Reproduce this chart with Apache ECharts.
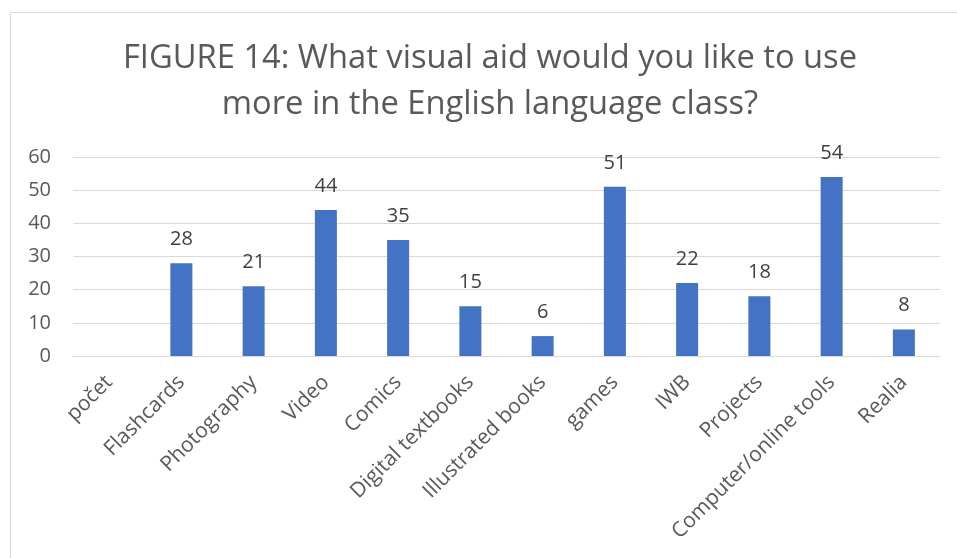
<!DOCTYPE html>
<html><head><meta charset="utf-8">
<script src="https://cdn.jsdelivr.net/npm/echarts@6/dist/echarts.min.js"></script>
<style>html,body{margin:0;padding:0;background:#fff}#c{width:957px;height:558px}</style>
</head><body><div id="c"></div>
<script>
const titleLines = ['FIGURE 14: What visual aid would you like to use', 'more in the English language class?'];
const categories = ['počet','Flashcards','Photography','Video','Comics','Digital textbooks','Illustrated books','games','IWB','Projects','Computer/online tools','Realia'];
const values = [null,28,21,44,35,15,6,51,22,18,54,8];
const yTicks = {min:0, max:60, interval:10};

const chart = echarts.init(document.getElementById('c'), null, {renderer:'canvas'});
const FONT = '"Open Sans", sans-serif';
chart.setOption({
  animation:false,
  backgroundColor:'#fff',
  graphic:[{type:'rect', shape:{x:10.5,y:12.5,width:1000,height:700}, style:{fill:'none', stroke:'#d9d9d9', lineWidth:1}, silent:true}],
  title:{
    text: titleLines.join('\n'), left:490, top:36, padding:0, textAlign:'center',
    textStyle:{fontFamily:FONT, fontSize:32.7, fontWeight:'normal', color:'#595959', lineHeight:46}
  },
  grid:{left:73, right:17, top:157, height:199, containLabel:false},
  xAxis:{
    type:'category', data:categories,
    axisLine:{show:true, lineStyle:{color:'#d9d9d9'}},
    axisTick:{show:false},
    axisLabel:{interval:0, rotate:45, fontFamily:FONT, fontSize:21, color:'#595959', margin:23}
  },
  yAxis:{
    type:'value', min:yTicks.min, max:yTicks.max, interval:yTicks.interval,
    axisLine:{show:false}, axisTick:{show:false},
    axisLabel:{fontFamily:FONT, fontSize:20, color:'#595959', margin:22},
    splitLine:{lineStyle:{color:'#d9d9d9', width:1}}
  },
  series:[{
    type:'bar', data:values, barWidth:22,
    itemStyle:{color:'#4472C4'},
    label:{show:true, position:'top', distance:14, fontFamily:FONT, fontSize:20, color:'#404040'}
  }]
});
</script></body></html>
